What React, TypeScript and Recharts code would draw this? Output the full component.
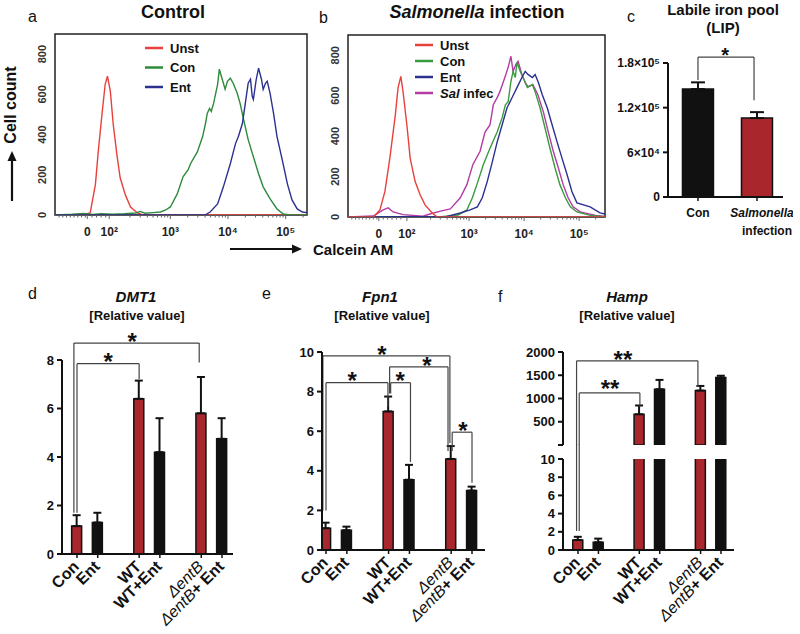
import React from 'react';
import {
  LineChart, Line, BarChart, Bar, Cell, XAxis, YAxis, ErrorBar,
  ReferenceLine, ReferenceDot, ReferenceArea,
} from 'recharts';

const FONT = '"Liberation Sans", Arial, Helvetica, sans-serif';
const RED = '#a8262c';
const INK = '#111111';

// ---------------- a / b : Calcein AM histograms ([display position (log10 units), cell count])
type Pt = [number, number];

const ctrlUnst: Pt[] = [[1.0,0],[1.48,0],[1.61,10],[1.70,150],[1.75,315],[1.82,515],[1.87,650],[1.91,690],[1.96,615],[2.01,450],[2.08,285],[2.13,185],[2.22,100],[2.31,40],[2.43,10],[2.53,0],[5.37,0]];
const ctrlCon: Pt[] = [[1.0,0],[1.3,4],[1.5,8],[1.65,3],[1.8,7],[2.0,4],[2.2,6],[2.4,10],[2.48,18],[2.56,9],[2.7,12],[2.83,15],[2.92,25],[3.0,40],[3.12,105],[3.22,190],[3.31,225],[3.35,255],[3.47,315],[3.56,390],[3.61,455],[3.64,505],[3.68,530],[3.71,515],[3.75,555],[3.82,650],[3.85,725],[3.90,675],[3.95,625],[3.99,665],[4.04,680],[4.09,655],[4.16,605],[4.21,555],[4.27,475],[4.35,375],[4.44,290],[4.53,205],[4.61,140],[4.73,80],[4.85,30],[4.96,5],[5.08,0],[5.37,0]];
const ctrlEnt: Pt[] = [[1.0,0],[3.6,0],[3.69,15],[3.82,55],[3.92,140],[4.04,255],[4.13,355],[4.18,390],[4.25,455],[4.30,555],[4.35,655],[4.39,675],[4.42,590],[4.44,575],[4.49,675],[4.53,730],[4.58,675],[4.61,625],[4.65,655],[4.68,665],[4.73,605],[4.79,505],[4.85,390],[4.94,275],[5.03,155],[5.11,75],[5.2,30],[5.29,15],[5.37,12]];

const infUnst: Pt[] = [[0.8,0],[1.26,0],[1.38,35],[1.47,125],[1.56,290],[1.66,505],[1.71,640],[1.76,695],[1.80,620],[1.87,455],[1.93,290],[2.02,175],[2.11,110],[2.20,60],[2.33,20],[2.42,0],[5.47,0]];
const infCon: Pt[] = [[0.8,0],[2.5,2],[2.8,10],[2.96,35],[3.06,95],[3.16,175],[3.26,260],[3.38,340],[3.51,420],[3.6,490],[3.66,555],[3.71,570],[3.76,670],[3.8,720],[3.84,690],[3.87,765],[3.93,720],[3.98,690],[4.06,640],[4.15,655],[4.2,620],[4.29,540],[4.38,440],[4.47,340],[4.56,245],[4.65,160],[4.75,95],[4.84,50],[4.96,25],[5.2,8],[5.47,2]];
const infEnt: Pt[] = [[0.8,0],[2.6,3],[2.84,20],[3.02,35],[3.15,50],[3.24,95],[3.33,175],[3.42,270],[3.51,370],[3.6,455],[3.69,540],[3.78,590],[3.87,640],[3.96,690],[4.02,720],[4.07,705],[4.15,690],[4.2,705],[4.26,665],[4.33,605],[4.42,540],[4.51,455],[4.6,370],[4.69,290],[4.78,210],[4.87,125],[4.96,70],[5.2,50],[5.38,20],[5.47,15]];
const infSal: Pt[] = [[0.8,0],[1.26,5],[1.44,35],[1.53,45],[1.62,25],[1.8,12],[2.16,4],[2.29,15],[2.5,30],[2.66,40],[2.84,95],[2.96,160],[3.07,260],[3.2,325],[3.29,420],[3.38,455],[3.44,555],[3.51,590],[3.56,620],[3.65,690],[3.71,740],[3.76,795],[3.8,720],[3.85,755],[3.89,770],[3.96,705],[4.02,665],[4.07,645],[4.16,655],[4.25,605],[4.35,520],[4.44,420],[4.53,325],[4.62,245],[4.71,160],[4.8,95],[4.89,50],[5.02,25],[5.3,8],[5.47,3]];

const histYTicks = [0, 200, 400, 600, 800];
const histXLabels = ['0', '10²', '10³', '10⁴', '10⁵'];
const ctrlXTickPos = [1.56, 1.94, 3, 4, 5];
const infXTickPos = [1.36, 1.87, 3, 4, 5];

// ---------------- c : labile iron pool
const lipGroups = ['Con', 'Salmonella infection'];
const lipMean = [145000, 106000];
const lipErr = [9000, 8000];
const lipYTicks = [0, 60000, 120000, 180000];
const lipYLabels = ['0', '6×10⁴', '1.2×10⁵', '1.8×10⁵'];

// ---------------- d / e / f : relative mRNA
const geneGroups = ['Con', 'Ent', 'WT', 'WT+Ent', 'ΔentB', 'ΔentB+ Ent'];
const dmt1Mean = [1.15, 1.3, 6.4, 4.2, 5.8, 4.75];
const dmt1Err = [0.45, 0.4, 0.75, 1.4, 1.5, 0.85];
const fpn1Mean = [1.1, 1.0, 7.0, 3.55, 4.6, 3.0];
const fpn1Err = [0.28, 0.18, 0.75, 0.75, 0.65, 0.2];
const hampMean = [1.1, 0.85, 660, 1200, 1170, 1450];
const hampErr = [0.35, 0.4, 190, 200, 100, 40];

// significance brackets: x in slot units, y in value units
type Br = { x1: number; x2: number; y: number; y1: number | null; y2: number; sx: number; mark: string; lift?: number };
const lipBrackets: Br[] = [{ x1: 0, x2: 0.95, y: 188000, y1: 157000, y2: 130000, sx: 0.46, mark: '*' }];
const dmt1Brackets: Br[] = [
  { x1: 0, x2: 3, y: 7.85, y1: 1.7, y2: 7.22, sx: 1.5, mark: '*' },
  { x1: -0.15, x2: 5.9, y: 8.7, y1: 1.7, y2: 7.9, sx: 2.66, mark: '*' },
];
const fpn1Brackets: Br[] = [
  { x1: -0.15, x2: 5.94, y: 9.8, y1: 2.0, y2: 5.4, sx: 2.68, mark: '*' },
  { x1: 0, x2: 2.97, y: 8.45, y1: 2.0, y2: 7.25, sx: 1.25, mark: '*' },
  { x1: 3.1, x2: 4.05, y: 8.45, y1: 7.9, y2: 4.45, sx: 3.55, mark: '*' },
  { x1: 3.05, x2: 5.85, y: 9.25, y1: 7.9, y2: 5.0, sx: 4.84, mark: '*' },
  { x1: 6.05, x2: 7.0, y: 5.95, y1: 5.0, y2: 3.4, sx: 6.57, mark: '*' },
];
const hampBrackets: Br[] = [
  { x1: -0.07, x2: 5.87, y: 1810, y1: 0, y2: 1250, sx: 2.2, mark: '**' },
  { x1: 0.06, x2: 3.03, y: 1120, y1: 0, y2: 820, sx: 1.57, mark: '**', lift: 10 },
];
const hampLowerLegs = [{ x: -0.07, from: 2.1, to: 11.6 }, { x: 0.06, from: 2.1, to: 11.6 }];

// ---------------- layout (not data)
const SLOTS = [0, 1, 3, 4, 6, 7];
const FILLS = [RED, INK, RED, INK, RED, INK];

const geneRows = (mean: number[], err: number[]) =>
  mean.map((m, i) => ({ slot: SLOTS[i], mean: m, err: [0, err[i]] }));

const toRows = (pts: Pt[]) => pts.map(([x, y]) => ({ x, y }));

function histTicks(lo: number, hi: number, majors: number[]) {
  const out: number[] = [...majors];
  for (let n = 2; n <= 5; n++) for (let k = 2; k <= 9; k++) {
    const v = n + Math.log10(k);
    if (v > lo && v < hi) out.push(+v.toFixed(3));
  }
  for (let v = lo + 0.07; v < majors[0] - 0.03; v += 0.065) out.push(+v.toFixed(3));
  for (let v = majors[0] + 0.08; v < majors[1] - 0.03; v += 0.08) out.push(+v.toFixed(3));
  return out.sort((a, b) => a - b);
}

type Series = { name: string; pts: Pt[]; color: string };

function Histogram({ box, xDomain, majors, series }: { box: { x: number; y: number; w: number; h: number }; xDomain: [number, number]; majors: number[]; series: Series[] }) {
  const yW = 30, xH = 30, mt = 4, mr = 4;
  const labels = new Map<string, string>();
  majors.forEach((m, i) => labels.set(m.toFixed(3), histXLabels[i]));
  const ticks = histTicks(xDomain[0], xDomain[1], majors);
  return (
    <div style={{ position: 'absolute', left: box.x - yW, top: box.y - mt }}>
      <LineChart width={yW + box.w + mr} height={mt + box.h + xH} margin={{ top: mt, right: mr, bottom: 0, left: 0 }}>
        <XAxis type="number" dataKey="x" domain={xDomain} allowDataOverflow ticks={ticks} interval={0}
          height={xH} axisLine={false} tickLine={false} tickSize={0} tickMargin={0}
          tick={(p: any) => {
            const lab = labels.get(Number(p.payload.value).toFixed(3));
            return (
              <g>
                <line x1={p.x} y1={p.y} x2={p.x} y2={p.y + (lab ? 4 : 2.5)} stroke="#666" strokeWidth={1} />
                {lab && <text x={p.x} y={p.y + 21} textAnchor="middle" fontSize={12} fontWeight="bold" fontFamily={FONT} fill="#222">{lab}</text>}
              </g>
            );
          }} />
        <YAxis type="number" domain={[0, 900]} allowDataOverflow ticks={histYTicks} interval={0} width={yW}
          axisLine={false} tickLine={false} tickSize={0} tickMargin={0}
          tick={(p: any) => (
            <text x={p.x - 9} y={p.y} transform={`rotate(-90 ${p.x - 9} ${p.y})`} textAnchor="middle" fontSize={11} fontWeight="bold" fontFamily={FONT} fill="#333">{p.payload.value}</text>
          )} />
        <ReferenceArea x1={xDomain[0]} x2={xDomain[1]} y1={0} y2={900} fill="none" fillOpacity={0} stroke="#222" strokeWidth={1.5} ifOverflow="visible" />
        {series.map((s) => (
          <Line key={s.name} data={toRows(s.pts)} dataKey="y" type="linear" stroke={s.color} strokeWidth={1.4} dot={false} activeDot={false} isAnimationActive={false} />
        ))}
      </LineChart>
    </div>
  );
}

function bracketEls(list: Br[], keyp: string, starSize = 24) {
  const out: any[] = [];
  list.forEach((b, i) => {
    const k = keyp + i;
    const st = { stroke: '#444', strokeWidth: 1.2 };
    out.push(<ReferenceLine key={k + 'h'} segment={[{ x: b.x1, y: b.y }, { x: b.x2, y: b.y }]} {...st} ifOverflow="visible" />);
    if (b.y1 !== null) out.push(<ReferenceLine key={k + 'l'} segment={[{ x: b.x1, y: b.y1 }, { x: b.x1, y: b.y }]} {...st} ifOverflow="visible" />);
    out.push(<ReferenceLine key={k + 'r'} segment={[{ x: b.x2, y: b.y2 }, { x: b.x2, y: b.y }]} {...st} ifOverflow="visible" />);
    const lift = b.lift ?? 7;
    out.push(
      <ReferenceDot key={k + 's'} x={b.sx} y={b.y} r={0} ifOverflow="visible"
        shape={(p: any) => (
          <text x={p.cx} y={p.cy - lift + starSize * 0.575} textAnchor="middle" fontSize={starSize} fontWeight="bold" fontFamily={FONT} fill={INK}>{b.mark}</text>
        )} />
    );
  });
  return out;
}

const geneTick = (p: any) => {
  const i = SLOTS.indexOf(Number(p.payload.value));
  const label = geneGroups[i] ?? '';
  const ax = p.x + 3, ay = p.y + 13.5;
  const isMut = label.startsWith('ΔentB');
  return (
    <g>
      <line x1={p.x} y1={p.y} x2={p.x} y2={p.y + 4} stroke={INK} strokeWidth={1.5} />
      <text x={ax} y={ay} transform={`rotate(-45 ${ax} ${ay})`} textAnchor="end" fontSize={16} fontWeight="bold" fontFamily={FONT} fill={INK}>
        {isMut ? (<><tspan fontStyle="italic" fontWeight="normal">ΔentB</tspan><tspan>{label.slice(5)}</tspan></>) : label}
      </text>
    </g>
  );
};

const valueTick = (fmt: (v: number) => string | null, fs = 13) => (p: any) => {
  const lab = fmt(Number(p.payload.value));
  return (
    <g>
      <line x1={p.x - 5} y1={p.y} x2={p.x} y2={p.y} stroke={INK} strokeWidth={2} />
      {lab !== null && <text x={p.x - 8} y={p.y + fs * 0.36} textAnchor="end" fontSize={fs} fontWeight="bold" fontFamily={FONT} fill={INK}>{lab}</text>}
    </g>
  );
};

const axisLine = { stroke: INK, strokeWidth: 2 };

function GeneChart({ box, xDomain, yDomain, yTicks, rows, brackets, extra, showX = true, fmt = (v: number) => String(v), mt = 40, barFills = FILLS }: any) {
  const yW = 50, xH = showX ? 84 : 0, mr = 10, mb = showX ? 0 : 6;
  return (
    <div style={{ position: 'absolute', left: box.x - yW, top: box.y - mt }}>
      <BarChart width={yW + box.w + mr} height={mt + box.h + xH + mb} data={rows} margin={{ top: mt, right: mr, bottom: mb, left: 0 }}>
        <XAxis type="number" dataKey="slot" domain={xDomain} allowDataOverflow ticks={SLOTS} interval={0} hide={!showX}
          height={xH} axisLine={axisLine} tickLine={false} tickSize={0} tickMargin={0} tick={geneTick} />
        <YAxis type="number" domain={yDomain} allowDataOverflow ticks={yTicks} interval={0} width={yW}
          axisLine={axisLine} tickLine={false} tickSize={0} tickMargin={0} tick={valueTick(fmt)} />
        <Bar dataKey="mean" barSize={10} stroke={INK} strokeWidth={1.5} isAnimationActive={false}>
          {rows.map((r: any, i: number) => <Cell key={i} fill={barFills[SLOTS.indexOf(r.slot)]} />)}
          <ErrorBar dataKey="err" direction="y" width={4} stroke={INK} strokeWidth={2} isAnimationActive={false} />
        </Bar>
        {brackets && bracketEls(brackets, 'b')}
        {extra}
      </BarChart>
    </div>
  );
}

function LipChart() {
  const box = { x: 668, y: 63, w: 115, h: 134 };
  const yW = 60, xH = 50, mt = 25, mr = 10;
  const rows = lipMean.map((m, i) => ({ slot: i, mean: m, err: [0, lipErr[i]] }));
  const lipFills = [INK, RED];
  return (
    <div style={{ position: 'absolute', left: box.x - yW, top: box.y - mt }}>
      <BarChart width={yW + box.w + mr} height={mt + box.h + xH} data={rows} margin={{ top: mt, right: mr, bottom: 0, left: 0 }}>
        <XAxis type="number" dataKey="slot" domain={[-0.508, 1.441]} allowDataOverflow ticks={[0, 1]} interval={0}
          height={xH} axisLine={axisLine} tickLine={false} tickSize={0} tickMargin={0}
          tick={(p: any) => {
            const g = lipGroups[Number(p.payload.value)];
            const parts = g.split(' ');
            return (
              <g>
                <line x1={p.x} y1={p.y} x2={p.x} y2={p.y + 4} stroke={INK} strokeWidth={1.5} />
                <text x={p.x + (parts.length > 1 ? 5 : 0)} y={p.y + 20} textAnchor="middle" fontSize={12} fontWeight="bold" fontFamily={FONT} fill={INK} fontStyle={parts.length > 1 ? 'italic' : 'normal'}>{parts[0]}</text>
                {parts[1] && <text x={p.x + 10} y={p.y + 38} textAnchor="middle" fontSize={12} fontWeight="bold" fontFamily={FONT} fill={INK}>{parts[1]}</text>}
              </g>
            );
          }} />
        <YAxis type="number" domain={[0, 180000]} allowDataOverflow ticks={lipYTicks} interval={0} width={yW}
          axisLine={axisLine} tickLine={false} tickSize={0} tickMargin={0}
          tick={valueTick((v) => lipYLabels[lipYTicks.indexOf(v)], 12)} />
        <Bar dataKey="mean" barSize={31} stroke={INK} strokeWidth={1.5} isAnimationActive={false}>
          {rows.map((r, i) => <Cell key={i} fill={lipFills[i]} />)}
          <ErrorBar dataKey="err" direction="y" width={7} stroke={INK} strokeWidth={2} isAnimationActive={false} />
        </Bar>
        {bracketEls(lipBrackets, 'c', 20)}
      </BarChart>
    </div>
  );
}

function Arrow({ x1, y1, x2, y2 }: { x1: number; y1: number; x2: number; y2: number }) {
  const ang = Math.atan2(y2 - y1, x2 - x1);
  const hl = 10, hw = 4.5;
  const bx = x2 - hl * Math.cos(ang), by = y2 - hl * Math.sin(ang);
  const px = -Math.sin(ang) * hw, py = Math.cos(ang) * hw;
  return (
    <g>
      <line x1={x1} y1={y1} x2={bx} y2={by} stroke={INK} strokeWidth={2.2} />
      <polygon points={`${x2},${y2} ${bx + px},${by + py} ${bx - px},${by - py}`} fill={INK} />
    </g>
  );
}

function Legend({ x, y0, dy, items }: { x: number; y0: number; dy: number; items: { label: React.ReactNode; color: string }[] }) {
  return (
    <g>
      {items.map((it, i) => (
        <g key={i}>
          <line x1={x} y1={y0 + i * dy} x2={x + 18} y2={y0 + i * dy} stroke={it.color} strokeWidth={2.5} />
          <text x={x + 25} y={y0 + i * dy + 4.5} fontSize={13} fontWeight="bold" fontFamily={FONT} fill={INK}>{it.label}</text>
        </g>
      ))}
    </g>
  );
}

const C_UNST = '#e8413c', C_CON = '#2f8a3c', C_ENT = '#2c318f', C_SAL = '#b23ba4';

export default function App() {
  const rowsD = geneRows(dmt1Mean, dmt1Err);
  const rowsE = geneRows(fpn1Mean, fpn1Err);
  const rowsF = geneRows(hampMean, hampErr);
  const rowsFUpper = rowsF.filter((r) => r.mean > 10);
  const T = { fontFamily: FONT, fill: INK } as any;
  return (
    <div style={{ position: 'absolute', left: 0, top: 0, width: 800, height: 634, background: '#fff', overflow: 'hidden' }}>
      <Histogram box={{ x: 55, y: 34, w: 252, h: 181 }} xDomain={[1.0, 5.37]} majors={ctrlXTickPos}
        series={[
          { name: 'Unst', pts: ctrlUnst, color: C_UNST },
          { name: 'Con', pts: ctrlCon, color: C_CON },
          { name: 'Ent', pts: ctrlEnt, color: C_ENT },
        ]} />
      <Histogram box={{ x: 348, y: 35, w: 257, h: 182 }} xDomain={[0.8, 5.47]} majors={infXTickPos}
        series={[
          { name: 'Sal', pts: infSal, color: C_SAL },
          { name: 'Con', pts: infCon, color: '#3a9a3e' },
          { name: 'Ent', pts: infEnt, color: C_ENT },
          { name: 'Unst', pts: infUnst, color: C_UNST },
        ]} />
      <LipChart />
      <GeneChart box={{ x: 62, y: 360, w: 171, h: 194 }} xDomain={[-0.724, 7.531]} yDomain={[0, 8]} yTicks={[0, 2, 4, 6, 8]}
        rows={rowsD} brackets={dmt1Brackets} mt={40} />
      <GeneChart box={{ x: 322, y: 352, w: 163, h: 198 }} xDomain={[-0.192, 7.623]} yDomain={[0, 10]} yTicks={[0, 2, 4, 6, 8, 10]}
        rows={rowsE} brackets={fpn1Brackets} mt={20} />
      <GeneChart box={{ x: 563, y: 352, w: 171, h: 93 }} xDomain={[-0.734, 7.636]} yDomain={[0, 2000]} yTicks={[0, 500, 1000, 1500, 2000]}
        rows={rowsFUpper} brackets={hampBrackets} mt={20} showX={false} fmt={(v: number) => (v === 0 ? null : String(v))} />
      <GeneChart box={{ x: 563, y: 459, w: 171, h: 91 }} xDomain={[-0.734, 7.636]} yDomain={[0, 10]} yTicks={[0, 2, 4, 6, 8, 10]}
        rows={rowsF} mt={20}
        extra={hampLowerLegs.map((l, i) => (
          <ReferenceLine key={'leg' + i} segment={[{ x: l.x, y: l.from }, { x: l.x, y: l.to }]} stroke="#444" strokeWidth={1.2} ifOverflow="visible" />
        ))} />

      <svg width={800} height={634} style={{ position: 'absolute', left: 0, top: 0, pointerEvents: 'none' }}>
        {/* panel letters */}
        <text x={28} y={22} fontSize={16} {...T}>a</text>
        <text x={319} y={23} fontSize={16} {...T}>b</text>
        <text x={627} y={22} fontSize={16} {...T}>c</text>
        <text x={28} y={299} fontSize={16} {...T}>d</text>
        <text x={262} y={299} fontSize={16} {...T}>e</text>
        <text x={498} y={302} fontSize={16} {...T}>f</text>
        {/* titles */}
        <text x={173} y={18} textAnchor="middle" fontSize={18} fontWeight="bold" {...T}>Control</text>
        <text x={477} y={18} textAnchor="middle" fontSize={18} fontWeight="bold" {...T}><tspan fontStyle="italic">Salmonella</tspan> infection</text>
        <text x={723} y={15} textAnchor="middle" fontSize={15} fontWeight="bold" {...T}>Labile iron pool</text>
        <text x={723} y={33} textAnchor="middle" fontSize={15} fontWeight="bold" {...T}>(LIP)</text>
        <text x={136} y={302} textAnchor="middle" fontSize={15} fontWeight="bold" fontStyle="italic" {...T}>DMT1</text>
        <text x={137} y={320} textAnchor="middle" fontSize={13} fontWeight="bold" {...T}>[Relative value]</text>
        <text x={380} y={302} textAnchor="middle" fontSize={15} fontWeight="bold" fontStyle="italic" {...T}>Fpn1</text>
        <text x={382} y={320} textAnchor="middle" fontSize={13} fontWeight="bold" {...T}>[Relative value]</text>
        <text x={627} y={302} textAnchor="middle" fontSize={15} fontWeight="bold" fontStyle="italic" {...T}>Hamp</text>
        <text x={627} y={320} textAnchor="middle" fontSize={13} fontWeight="bold" {...T}>[Relative value]</text>
        {/* axis titles */}
        <text x={16} y={105} transform="rotate(-90 16 105)" textAnchor="middle" fontSize={16} fontWeight="bold" {...T}>Cell count</text>
        <Arrow x1={12} y1={201} x2={12} y2={151} />
        <Arrow x1={230} y1={249} x2={302} y2={249} />
        <text x={313} y={255} fontSize={15} fontWeight="bold" {...T}>Calcein AM</text>
        {/* legends */}
        <Legend x={145} y0={48} dy={19.5} items={[
          { label: 'Unst', color: C_UNST }, { label: 'Con', color: C_CON }, { label: ' Ent', color: C_ENT },
        ]} />
        <Legend x={415} y0={45} dy={16} items={[
          { label: 'Unst', color: C_UNST }, { label: 'Con', color: '#3a9a3e' }, { label: 'Ent', color: C_ENT },
          { label: <><tspan fontStyle="italic">Sal</tspan> infec</>, color: C_SAL },
        ]} />
      </svg>
    </div>
  );
}
